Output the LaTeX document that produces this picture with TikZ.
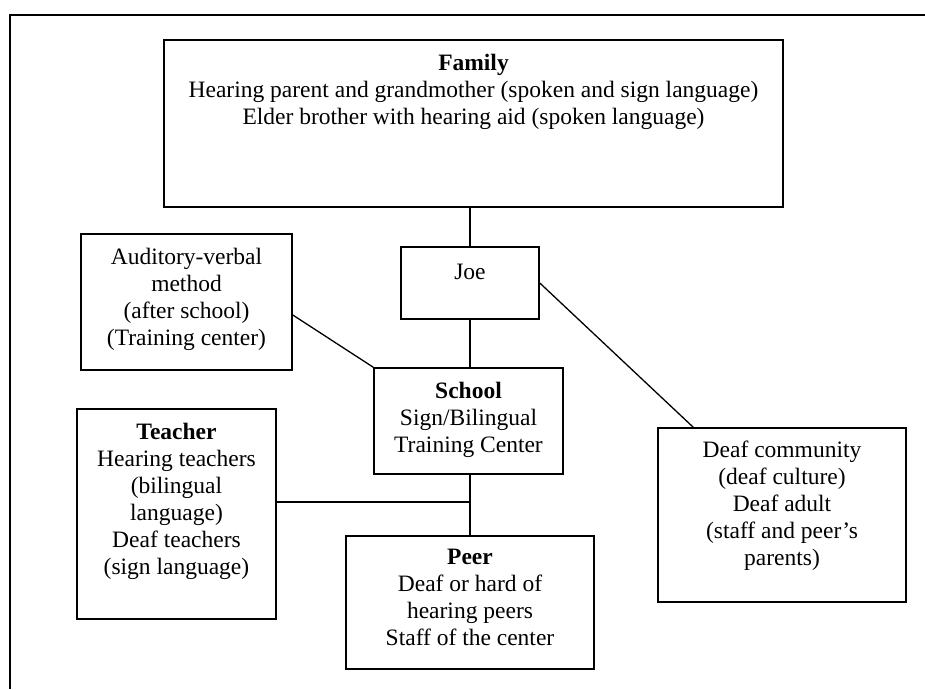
\documentclass[tikz,border=0pt]{standalone}
\usepackage{fontspec}
\setmainfont{Liberation Serif}
\usepackage{tikz}

\begin{document}
\begin{tikzpicture}[x=1pt, y=-1pt,
    box/.style={draw, line width=1.6pt, inner sep=0pt},
    txt/.style={anchor=north, align=center, inner sep=0pt,
                font=\fontsize{23.5pt}{27pt}\selectfont},
    link/.style={line width=1.3pt}]
  \useasboundingbox (0,0) rectangle (925,689);
  % outer frame: only top and left edges show
  \draw[line width=1.6pt] (10,689) -- (10,15) -- (925,15);
  % boxes
  \node[box, minimum width=619pt, minimum height=167pt] (family) at (473.5,123.5) {};
  \node[box, minimum width=138pt, minimum height=72pt] (joe) at (470,283) {};
  \node[box, minimum width=211pt, minimum height=136pt] (aud) at (186.5,302) {};
  \node[box, minimum width=189pt, minimum height=106pt] (school) at (468.5,421) {};
  \node[box, minimum width=199pt, minimum height=210pt] (teacher) at (176.5,514) {};
  \node[box, minimum width=248pt, minimum height=133pt] (peer) at (470,602.5) {};
  \node[box, minimum width=248pt, minimum height=174pt] (deaf) at (782,515) {};
  % texts, set from the top of each box
  \node[txt] (familytxt) at ([yshift=-15pt]family.north)
        {\textbf{Family}\\Hearing parent and grandmother (spoken and sign language)\\
         Elder brother with hearing aid (spoken language)};
  \node[txt] (joetxt) at ([yshift=-18pt]joe.north) {Joe};
  \node[txt] (audtxt) at ([yshift=-15pt]aud.north)
        {Auditory-verbal\\method\\(after school)\\(Training center)};
  \node[txt] (schooltxt) at ([yshift=-15pt]school.north)
        {\textbf{School}\\Sign/Bilingual\\Training Center};
  \node[txt] (teachertxt) at ([yshift=-15pt]teacher.north)
        {\textbf{Teacher}\\Hearing teachers\\(bilingual\\language)\\Deaf teachers\\(sign language)};
  \node[txt] (peertxt) at ([yshift=-14pt]peer.north)
        {\textbf{Peer}\\Deaf or hard of\\hearing peers\\Staff of the center};
  \node[txt] (deaftxt) at ([yshift=-14pt]deaf.north)
        {Deaf community\\(deaf culture)\\Deaf adult\\(staff and peer’s\\parents)};
  % connectors
  \draw[link] (family.south -| joe.north) -- (joe.north);
  \draw[link] (joe.south) -- (joe.south |- school.north);
  \draw[link] ([yshift=-13pt]aud.east) -- (school.north west);
  \draw[link] (joe.east) -- ([xshift=36pt]deaf.north west);
  \draw[link] (school.south -| peer.north) -- (peer.north);
  \coordinate (tee) at (470,502);
  \draw[link] (teacher.east |- tee) -- (tee);
\end{tikzpicture}
\end{document}
